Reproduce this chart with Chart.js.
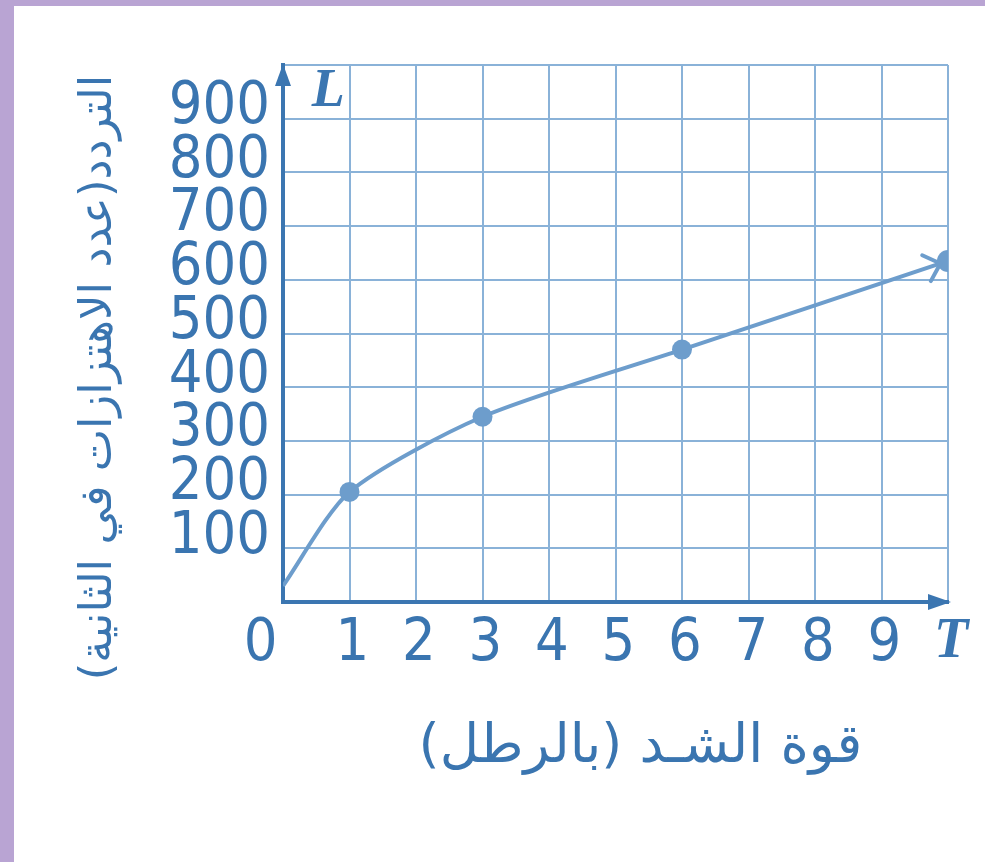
<!DOCTYPE html>
<html>
<head>
<meta charset="utf-8">
<script src="https://cdn.jsdelivr.net/npm/chart.js@4.4.1/dist/chart.umd.min.js"></script>
<style>
  html, body { margin: 0; padding: 0; background: #ffffff; }
  body { width: 985px; height: 862px; overflow: hidden; }
  .frame {
    position: absolute; left: 0; top: 0;
    width: 971px; height: 856px;
    border-left: 14px solid #b9a4d3;
    border-top: 6px solid #b9a4d3;
    background: #ffffff;
  }
</style>
</head>
<body>
<div class="frame"><canvas id="chart" width="971" height="856"></canvas></div>
<script>
// tension (T) against frequency (L)
const tension = [0, 1, 3, 6, 10];
const frequency = [30, 205, 345, 470, 635];

const xTickLabels = ['0', '1', '2', '3', '4', '5', '6', '7', '8', '9', 'T'];
const yTickLabels = ['', '100', '200', '300', '400', '500', '600', '700', '800', '900', ''];

const xTitle = 'قوة الشـد (بالرطل)';
const yTitle = 'التردد(عدد الاهتزازات في الثانية)';
const yName = 'L';

const LABEL = '#3a75b0';
const AXIS = '#3b76b1';
const GRID = '#8ab2d8';
const CURVE = '#6d9dcc';

// arrows on the axes and the curve, axis name, rotated titles
const axisDecor = {
  id: 'axisDecor',
  afterDatasetsDraw(chart) {
    const { ctx, chartArea: a, scales: { x, y } } = chart;
    const x0 = x.getPixelForValue(0);
    const y0 = y.getPixelForValue(0);
    ctx.save();

    ctx.fillStyle = AXIS;
    ctx.beginPath();
    ctx.moveTo(x0, a.top - 1);
    ctx.lineTo(x0 - 8, a.top + 21);
    ctx.lineTo(x0 + 8, a.top + 21);
    ctx.closePath();
    ctx.fill();

    ctx.beginPath();
    ctx.moveTo(a.right + 3, y0);
    ctx.lineTo(a.right - 20, y0 - 8);
    ctx.lineTo(a.right - 20, y0 + 8);
    ctx.closePath();
    ctx.fill();

    // open arrowhead just before the last point
    const pts = chart.getDatasetMeta(0).data;
    const p = pts[pts.length - 1];
    const q = pts[pts.length - 2];
    const fromX = p.cp1x !== undefined ? p.cp1x : q.x;
    const fromY = p.cp1y !== undefined ? p.cp1y : q.y;
    const ang = Math.atan2(p.y - fromY, p.x - fromX);
    const tipX = p.x - 8 * Math.cos(ang);
    const tipY = p.y - 8 * Math.sin(ang);
    ctx.strokeStyle = CURVE;
    ctx.lineWidth = 4;
    ctx.lineCap = 'round';
    ctx.beginPath();
    for (const s of [-1, 1]) {
      const w = ang + Math.PI + s * 0.75;
      ctx.moveTo(tipX + 20 * Math.cos(w), tipY + 20 * Math.sin(w));
      ctx.lineTo(tipX, tipY);
    }
    ctx.stroke();

    ctx.fillStyle = AXIS;
    ctx.font = 'bold italic 54px "Liberation Serif"';
    ctx.textAlign = 'center';
    ctx.textBaseline = 'middle';
    ctx.fillText(yName, x.getPixelForValue(0.68), y.getPixelForValue(950));

    ctx.direction = 'rtl';
    ctx.fillStyle = LABEL;
    ctx.font = '54px "DejaVu Sans"';
    ctx.fillText(xTitle, (a.left + a.right) / 2 + 25, a.bottom + 146);

    ctx.translate(a.left - 184, (a.top + a.bottom) / 2 + 44);
    ctx.rotate(-Math.PI / 2);
    ctx.font = '45px "DejaVu Sans"';
    ctx.fillText(yTitle, 0, 0);
    ctx.restore();
  }
};

new Chart(document.getElementById('chart'), {
  type: 'line',
  data: {
    datasets: [{
      data: tension.map((t, i) => ({ x: t, y: frequency[i] })),
      borderColor: CURVE,
      backgroundColor: CURVE,
      borderWidth: 4,
      tension: 0.25,
      pointRadius: [0, 10, 10, 10, 11],
      pointBackgroundColor: CURVE,
      pointBorderWidth: 0,
      fill: false,
    }],
  },
  options: {
    responsive: false,
    animation: false,
    events: [],
    layout: { padding: { top: 59, right: 37, left: 0, bottom: 0 } },
    plugins: {
      legend: { display: false },
      tooltip: { enabled: false },
    },
    scales: {
      x: {
        type: 'linear',
        min: 0,
        max: 10,
        afterFit: (scale) => { scale.height = 260; },
        grid: { color: GRID, lineWidth: 2, drawTicks: false },
        border: { color: AXIS, width: 4 },
        ticks: {
          stepSize: 1,
          autoSkip: false,
          maxRotation: 0,
          padding: 7,
          labelOffset: 3,
          color: (c) => (c.tick && c.tick.value === 10 ? AXIS : LABEL),
          font: (c) => (c.tick && c.tick.value === 10
            ? { family: '"Liberation Serif"', size: 56, style: 'italic', weight: 'bold' }
            : { family: '"DejaVu Sans Condensed"', size: 59 }),
          callback: (v, i) => (i === 0 ? xTickLabels[i] + '   ' : xTickLabels[i]),
        },
      },
      y: {
        min: 0,
        max: 1000,
        afterFit: (scale) => { scale.width = 269; },
        grid: { color: GRID, lineWidth: 2, drawTicks: false },
        border: { color: AXIS, width: 4 },
        ticks: {
          stepSize: 100,
          autoSkip: false,
          padding: 13,
          labelOffset: -11,
          color: LABEL,
          font: { family: '"DejaVu Sans Condensed"', size: 59 },
          callback: (v, i) => yTickLabels[i],
        },
      },
    },
  },
  plugins: [axisDecor],
});
</script>
</body>
</html>
